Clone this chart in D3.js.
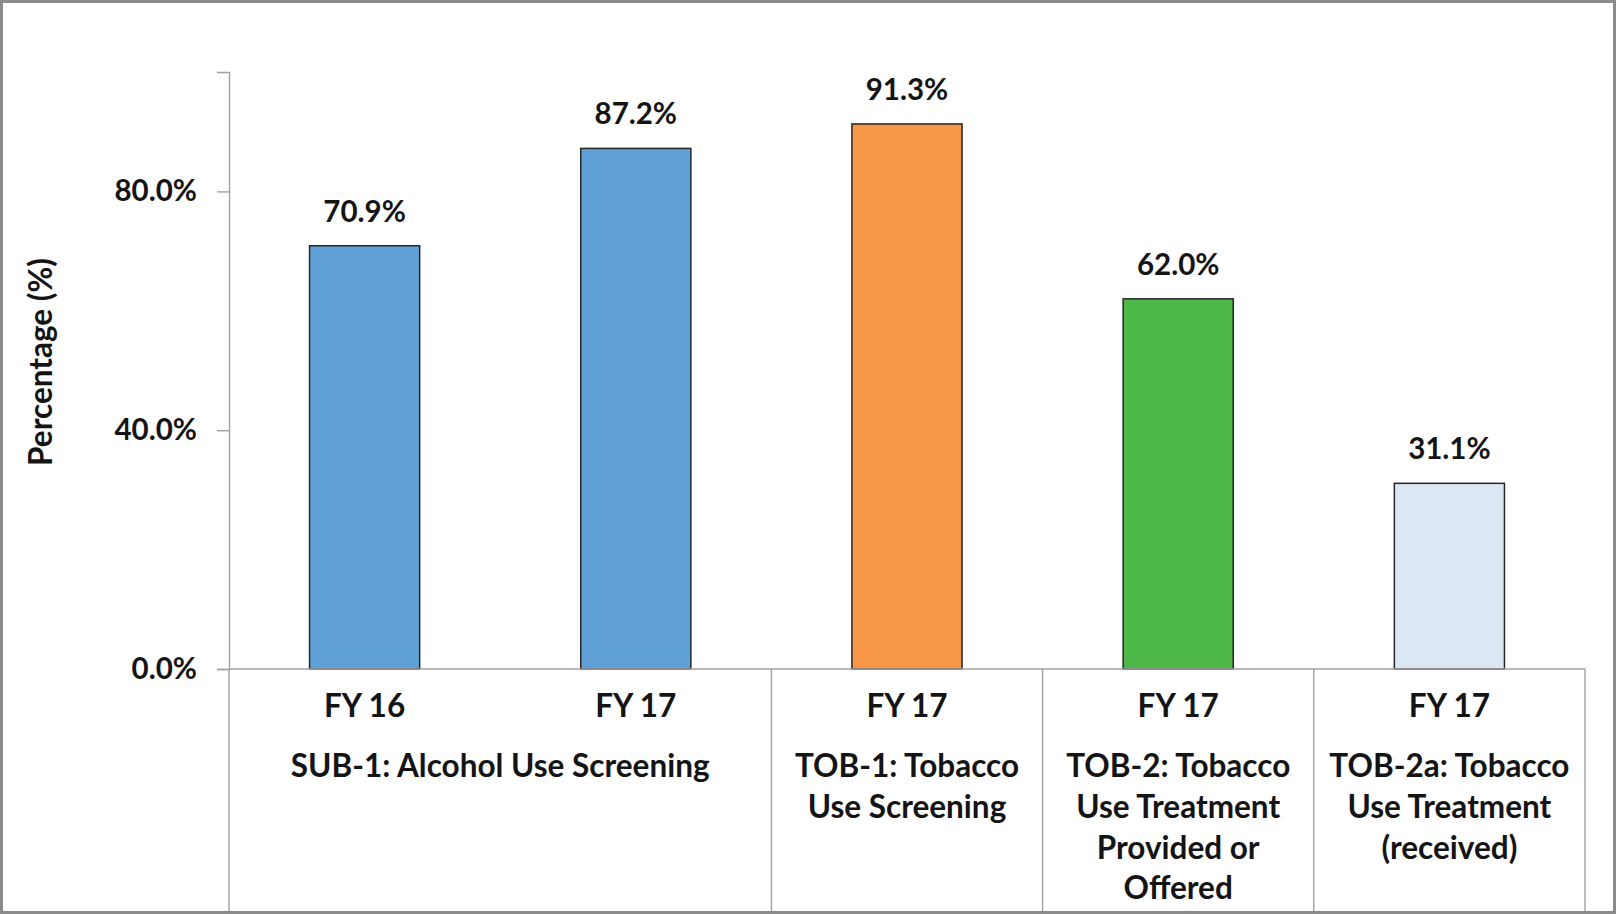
<!DOCTYPE html>
<html>
<head>
<meta charset="utf-8">
<script src="https://cdn.jsdelivr.net/npm/d3@7/dist/d3.min.js"></script>
<style>
  html, body { margin: 0; padding: 0; background: #fff; }
  svg { display: block; font-family: Lato, "Open Sans", sans-serif; font-weight: 700; }
</style>
</head>
<body>
<svg id="chart" width="1616" height="914"></svg>
<script>
// Quality measures: one bar per reporting period
const periods = ["FY 16", "FY 17", "FY 17", "FY 17", "FY 17"];
const values = [70.9, 87.2, 91.3, 62.0, 31.1];
const measureIndex = [0, 0, 1, 2, 3];
const measureLabels = [
  ["SUB-1: Alcohol Use Screening"],
  ["TOB-1: Tobacco", "Use Screening"],
  ["TOB-2: Tobacco", "Use Treatment", "Provided or", "Offered"],
  ["TOB-2a: Tobacco", "Use Treatment", "(received)"]
];
const barColors = ["#5fa0d7", "#5fa0d7", "#f79646", "#4db748", "#dce7f4"];
const yTicks = [0, 40, 80];
const yTitle = "Percentage (%)";

const W = 1616, H = 914;
const plot = { left: 229, right: 1585, top: 72, bottom: 669, frameBottom: 911 };
const axisColor = "#a0a0a0";
const textColor = "#141414";
const numSize = 29.5;   // numbers: tick and value labels
const wordSize = 31.5;  // words: category labels and axis title

const svg = d3.select("#chart");

svg.append("rect").attr("width", W).attr("height", H).attr("fill", "#fff");

const idx = d3.range(values.length);
const x = d3.scaleBand().domain(idx).range([plot.left, plot.right])
  .paddingInner(0.594).paddingOuter(0.297);
const y = d3.scaleLinear().domain([0, 100]).range([plot.bottom, plot.top]);

// y axis
const yAxis = d3.axisLeft(y).tickValues(yTicks).tickSize(12).tickPadding(20)
  .tickFormat(d => d.toFixed(1) + "%");
const gy = svg.append("g").attr("transform", `translate(${plot.left},0)`).call(yAxis);
gy.select(".domain").attr("stroke", axisColor).attr("stroke-width", 1.4);
gy.selectAll(".tick line").attr("stroke", axisColor).attr("stroke-width", 1.4);
gy.selectAll(".tick text").attr("fill", textColor).attr("font-size", numSize)
  .attr("font-family", "Lato, sans-serif").attr("font-weight", 700);

// bars
svg.append("g").selectAll("rect").data(idx).join("rect")
  .attr("x", i => x(i))
  .attr("y", i => y(values[i]))
  .attr("width", x.bandwidth())
  .attr("height", i => y(0) - y(values[i]))
  .attr("fill", i => barColors[i])
  .attr("stroke", "#262626")
  .attr("stroke-width", 1.5);

// value labels
svg.append("g").selectAll("text").data(idx).join("text")
  .attr("x", i => x(i) + x.bandwidth() / 2)
  .attr("y", i => y(values[i]) - 24)
  .attr("text-anchor", "middle")
  .attr("font-size", numSize)
  .attr("fill", textColor)
  .text(i => values[i].toFixed(1) + "%");

// category axis: baseline plus multi-level frame
const step = x.step();
const bandLeft = i => x(i) + x.bandwidth() / 2 - step / 2;
const frame = svg.append("g").attr("stroke", axisColor).attr("stroke-width", 1.4);
frame.append("line").attr("x1", plot.left).attr("x2", plot.right)
  .attr("y1", y(0)).attr("y2", y(0));
frame.append("line").attr("x1", plot.left).attr("x2", plot.left)
  .attr("y1", y(0)).attr("y2", plot.frameBottom);

const groups = measureLabels.map((lines, g) => {
  const members = idx.filter(i => measureIndex[i] === g);
  const x0 = bandLeft(d3.min(members));
  const x1 = bandLeft(d3.max(members)) + step;
  return { lines, x0, x1 };
});
frame.selectAll("line.divider").data(groups).join("line")
  .attr("class", "divider")
  .attr("x1", d => d.x1).attr("x2", d => d.x1)
  .attr("y1", y(0)).attr("y2", plot.frameBottom);

// period labels
svg.append("g").selectAll("text").data(idx).join("text")
  .attr("x", i => x(i) + x.bandwidth() / 2)
  .attr("y", 717)
  .attr("text-anchor", "middle")
  .attr("font-size", wordSize)
  .attr("fill", textColor)
  .text(i => periods[i]);

// measure labels
const lineGap = 40.8;
svg.append("g").selectAll("text").data(groups).join("text")
  .attr("text-anchor", "middle")
  .attr("font-size", wordSize)
  .attr("fill", textColor)
  .each(function (d) {
    d3.select(this).selectAll("tspan").data(d.lines).join("tspan")
      .attr("x", (d.x0 + d.x1) / 2)
      .attr("y", (_, k) => 777 + k * lineGap)
      .text(t => t);
  });

// y axis title
svg.append("text")
  .attr("transform", "translate(52,362) rotate(-90)")
  .attr("text-anchor", "middle")
  .attr("font-size", wordSize)
  .attr("fill", textColor)
  .text(yTitle);

// outer frame
svg.append("rect").attr("x", 1.5).attr("y", 1.5).attr("width", W - 3).attr("height", H - 3)
  .attr("fill", "none").attr("stroke", "#8a8a8a").attr("stroke-width", 3);
</script>
</body>
</html>
